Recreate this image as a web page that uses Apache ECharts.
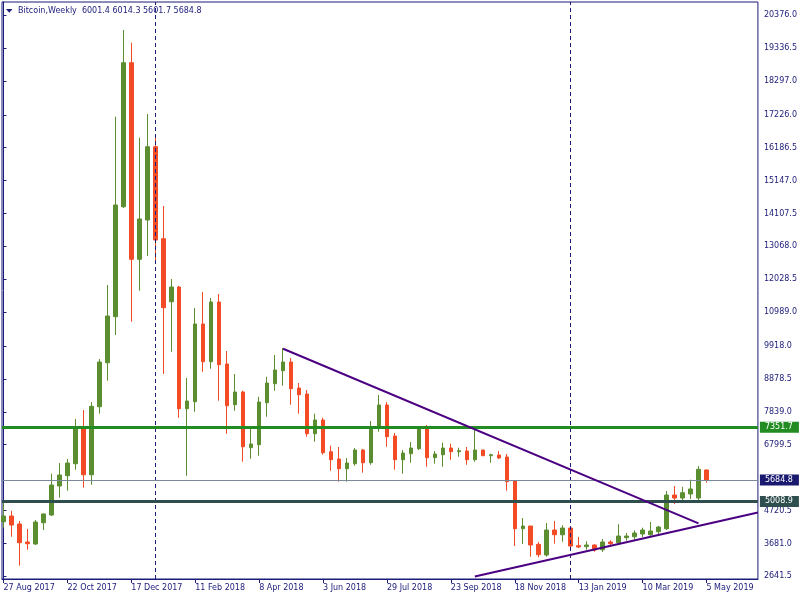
<!DOCTYPE html>
<html><head><meta charset="utf-8">
<script src="https://cdn.jsdelivr.net/npm/echarts@6/dist/echarts.min.js"></script>
<style>html,body{margin:0;padding:0;background:#fff}#c{width:800px;height:600px}</style>
</head><body><div id="c"></div>
<script>
const symbolName = 'Bitcoin,Weekly';
const weeks = [
 '27 Aug 2017','3 Sep 2017','10 Sep 2017','17 Sep 2017','24 Sep 2017','1 Oct 2017','8 Oct 2017','15 Oct 2017',
 '22 Oct 2017','29 Oct 2017','5 Nov 2017','12 Nov 2017','19 Nov 2017','26 Nov 2017','3 Dec 2017','10 Dec 2017',
 '17 Dec 2017','24 Dec 2017','31 Dec 2017','7 Jan 2018','14 Jan 2018','21 Jan 2018','28 Jan 2018','4 Feb 2018',
 '11 Feb 2018','18 Feb 2018','25 Feb 2018','4 Mar 2018','11 Mar 2018','18 Mar 2018','25 Mar 2018','1 Apr 2018',
 '8 Apr 2018','15 Apr 2018','22 Apr 2018','29 Apr 2018','6 May 2018','13 May 2018','20 May 2018','27 May 2018',
 '3 Jun 2018','10 Jun 2018','17 Jun 2018','24 Jun 2018','1 Jul 2018','8 Jul 2018','15 Jul 2018','22 Jul 2018',
 '29 Jul 2018','5 Aug 2018','12 Aug 2018','19 Aug 2018','26 Aug 2018','2 Sep 2018','9 Sep 2018','16 Sep 2018',
 '23 Sep 2018','30 Sep 2018','7 Oct 2018','14 Oct 2018','21 Oct 2018','28 Oct 2018','4 Nov 2018','11 Nov 2018',
 '18 Nov 2018','25 Nov 2018','2 Dec 2018','9 Dec 2018','16 Dec 2018','23 Dec 2018','30 Dec 2018','6 Jan 2019',
 '13 Jan 2019','20 Jan 2019','27 Jan 2019','3 Feb 2019','10 Feb 2019','17 Feb 2019','24 Feb 2019','3 Mar 2019',
 '10 Mar 2019','17 Mar 2019','24 Mar 2019','31 Mar 2019','7 Apr 2019','14 Apr 2019','21 Apr 2019','28 Apr 2019',
 '5 May 2019'
];
const openP = [4367,4547,4295,3726,3663,4336,4579,5495,5821,6200,7360,5852,8001,9392,10845,14321,
 18872,12659,13901,16217,13310,11319,11784,7938,8159,10615,9423,11310,9351,8064,8466,6706,
 6800,8128,8728,9139,9414,8592,8403,7148,7581,6579,6349,6042,6200,6633,6232,7319,
 8055,7075,6326,6516,6674,7297,6390,6484,6696,6579,6601,6326,6633,6453,6475,6412,
 5653,4146,4231,3653,3315,4105,3956,4168,3609,3577,3631,3482,3726,3704,3862,3893,
 3979,3956,4051,4146,5211,5116,5243,5116,6001.4];
const closeP = [4547,4263,3704,3672,4358,4611,5527,5843,6222,7360,5852,8014,9414,10867,14375,18872,
 12659,13933,16217,13269,11130,11784,7938,8181,10615,9423,11310,9328,8033,8466,6737,6823,
 8150,8750,9161,9414,8570,8380,7148,7581,6548,6326,6042,6222,6633,6232,7360,8055,
 7053,6326,6538,6696,7338,6390,6507,6696,6579,6611,6326,6633,6453,6484,6380,5631,
 4146,4231,3631,3324,4105,3956,4168,3599,3568,3631,3473,3726,3672,3915,3915,4010,
 4105,4073,4200,5211,5116,5284,5401,6023,5684.8];
const highP = [4999,4715,4389,4137,4421,4633,5884,6222,6349,7613,7897,8150,9509,11847,17165,19905,
 19504,16502,17251,16502,14343,12037,11815,8908,11120,11626,11436,11563,9761,9035,8507,7369,
 8317,8949,9635,9856,9540,8750,8529,7780,7654,6769,6728,6380,6696,6664,7549,8371,
 8150,7170,6633,6886,7369,7423,6601,6864,6832,6706,6728,7360,6640,6516,6601,6507,
 5684,4484,4231,3726,4326,4389,4253,4231,3884,3748,3653,3820,3780,4285,4010,4095,
 4178,4358,4231,5337,5495,5473,5695,6127,6014.3];
const lowP = [4178,3893,2977,3482,3631,4105,4547,5126,5347,6010,5442,5536,7780,8823,10267,14280,
 10687,11667,12763,12615,9035,9739,7654,5821,7843,9107,9202,8191,7148,7875,6263,6358,
 6453,7685,8507,8665,8064,7780,7053,6895,6484,5979,5631,5631,6137,5916,6168,7211,
 6737,6010,5884,6232,6633,6105,6200,6105,6326,6421,6168,6263,6440,6232,6349,5347,
 3599,3663,3261,3242,3261,3672,3735,3558,3537,3482,3420,3410,3599,3640,3768,3798,
 3884,3924,3937,4105,4926,4957,5084,5053,5601.7];
const xTickLabels = ['27 Aug 2017','22 Oct 2017','17 Dec 2017','11 Feb 2018','8 Apr 2018','3 Jun 2018',
 '29 Jul 2018','23 Sep 2018','18 Nov 2018','13 Jan 2019','10 Mar 2019','5 May 2019'];
const yTickLabels = [20376.0,19336.5,18297.0,17226.0,16186.5,15147.0,14107.5,13068.0,12028.5,
 10989.0,9918.0,8878.5,7839.0,6799.5,4720.5,3681.0,2641.5];
const resistanceLevel = 7351.7;
const supportLevel = 5008.9;
const yearSeparators = ['7 Jan 2018','6 Jan 2019'];
const trendDown = [['29 Apr 2018', 9834], ['28 Apr 2019', 4317]];
const trendUp = [['14 Oct 2018', 2633], ['5 May 2019', 4288]]; // ray, extended right

const NAVY = '#1b1b7a';
const FONT = 'DejaVu Sans';
const X_MIN = -0.1875, X_MAX = 94.4375;
const Y_MIN = 2557, Y_MAX = 20790;
const idx = d => weeks.indexOf(d);

const candles = weeks.map((w, i) => [i, openP[i], closeP[i], lowP[i], highP[i]]);
const last = weeks.length - 1;
const lastPrice = closeP[last];

// extend the up trend ray to the right edge of the plot
const u0 = [idx(trendUp[0][0]), trendUp[0][1]], u1 = [idx(trendUp[1][0]), trendUp[1][1]];
const uSlope = (u1[1] - u0[1]) / (u1[0] - u0[0]);
const uEnd = [X_MAX, u1[1] + uSlope * (X_MAX - u1[0])];

const levelLabel = (bg) => ({
  show: true, position: 'end', distance: 2, color: '#fff', backgroundColor: bg,
  padding: [2, 6, 1, 5], fontFamily: FONT, fontSize: 8,
  formatter: p => Number(p.value).toFixed(1)
});

const chart = echarts.init(document.getElementById('c'), null, {renderer: 'canvas'});
chart.setOption({
  animation: false,
  backgroundColor: '#fff',
  grid: {left: 2, right: 41, top: 2, bottom: 21, show: true, borderColor: NAVY, borderWidth: 1, backgroundColor: 'transparent'},
  graphic: [
    {type: 'polygon', shape: {points: [[6, 9], [12.5, 9], [9.25, 12.7]]}, style: {fill: NAVY}},
    {type: 'text', x: 18, y: 11, style: {
      text: symbolName + '  ' + [openP[last], highP[last], lowP[last], closeP[last]].map(v => v.toFixed(1)).join(' '),
      fill: NAVY, font: '8px "' + FONT + '"', verticalAlign: 'middle'}}
  ],
  xAxis: {
    type: 'value', min: X_MIN, max: X_MAX, position: 'bottom',
    axisLine: {show: true, onZero: false, lineStyle: {color: NAVY, width: 1}},
    axisTick: {show: true, length: 4, lineStyle: {color: NAVY}, customValues: xTickLabels.map(idx)},
    axisLabel: {show: true, customValues: xTickLabels.map(idx), formatter: v => weeks[Math.round(v)],
      color: NAVY, fontFamily: FONT, fontSize: 8, align: 'left', margin: 5},
    splitLine: {show: false}
  },
  yAxis: {
    type: 'value', min: Y_MIN, max: Y_MAX, position: 'right', scale: true,
    axisLine: {show: true, lineStyle: {color: NAVY, width: 1}},
    axisTick: {show: true, length: 3, lineStyle: {color: NAVY}, customValues: yTickLabels},
    axisLabel: {show: true, customValues: yTickLabels, formatter: v => Number(v).toFixed(1),
      color: NAVY, fontFamily: FONT, fontSize: 8, margin: 6},
    splitLine: {show: false}
  },
  series: [{
    type: 'candlestick',
    data: candles,
    encode: {x: 0, y: [1, 2, 3, 4]},
    barWidth: 4,
    clip: true,
    itemStyle: {color: '#5b8e30', color0: '#f24b25', borderColor: '#5b8e30', borderColor0: '#f24b25', borderWidth: 1},
    markLine: {
      silent: true, symbol: ['none', 'none'], animation: false,
      data: [
        {xAxis: idx(yearSeparators[0]), lineStyle: {color: NAVY, width: 1, type: [4, 3]}, label: {show: false}},
        {xAxis: idx(yearSeparators[1]), lineStyle: {color: NAVY, width: 1, type: [4, 3]}, label: {show: false}},
        {yAxis: lastPrice, lineStyle: {color: '#7a8898', width: 1, type: 'solid'}, label: levelLabel('#191970')},
        {yAxis: resistanceLevel, lineStyle: {color: '#228b22', width: 3, type: 'solid'}, label: levelLabel('#228b22')},
        {yAxis: supportLevel, lineStyle: {color: '#2f4f4f', width: 3, type: 'solid'}, label: levelLabel('#2f4f4f')},
        [{coord: [idx(trendDown[0][0]), trendDown[0][1]], lineStyle: {color: '#4b0082', width: 2, type: 'solid'}, label: {show: false}},
         {coord: [idx(trendDown[1][0]), trendDown[1][1]]}],
        [{coord: u0, lineStyle: {color: '#4b0082', width: 2, type: 'solid'}, label: {show: false}},
         {coord: uEnd}]
      ]
    }
  }]
});
</script></body></html>
